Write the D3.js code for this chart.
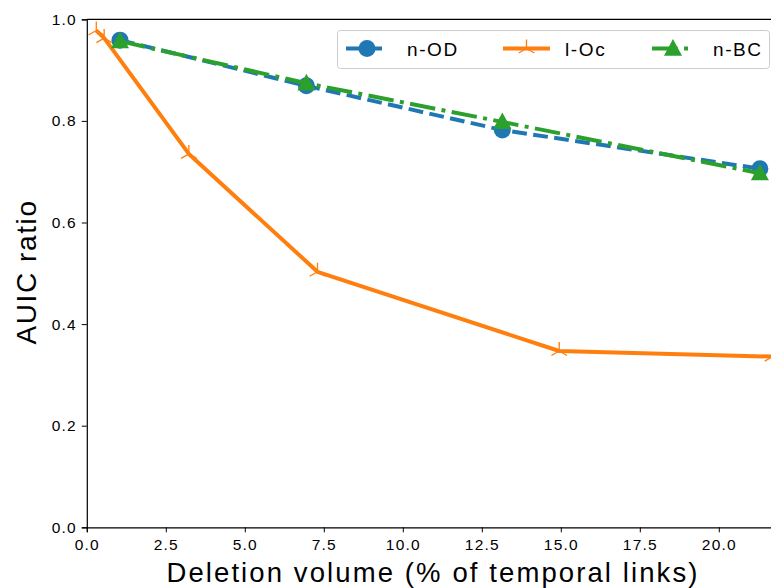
<!DOCTYPE html>
<html><head><meta charset="utf-8">
<script src="https://cdn.jsdelivr.net/npm/d3@7"></script>
<style>body{margin:0;background:#fff;overflow:hidden}svg{display:block}text{font-family:"Liberation Sans",Arial,sans-serif}</style>
</head><body><svg id="c" width="771" height="588"></svg>
<script>
const xTicks = [0, 2.5, 5, 7.5, 10, 12.5, 15, 17.5, 20];
const yTicks = [0, 0.2, 0.4, 0.6, 0.8, 1.0];
const nodX = [1.05, 6.95, 13.15, 21.3];
const nodY = [0.959, 0.869, 0.782, 0.706];
const locX = [0.3, 0.55, 3.23, 7.3, 14.95, 21.7];
const locY = [0.978, 0.963, 0.735, 0.503, 0.347, 0.336];
const nbcX = [1.05, 6.95, 13.15, 21.3];
const nbcY = [0.957, 0.874, 0.798, 0.697];
const seriesNames = ["n-OD", "l-Oc", "n-BC"];
const colors = ["#1f77b4", "#ff7f0e", "#2ca02c"];

const svg = d3.select("#c");
const L = 86.8, T = 19.3, B = 527.3;
const x = d3.scaleLinear().domain([0, 22.5]).range([L, L + 22.5 * 31.6]);
const y = d3.scaleLinear().domain([0, 1]).range([B, T]);

// axes
const xa = svg.append("g").attr("transform", `translate(0,${B})`)
  .call(d3.axisBottom(x).tickValues(xTicks).tickFormat(d3.format(".1f")).tickSizeOuter(0).tickSize(5));
const ya = svg.append("g").attr("transform", `translate(${L},0)`)
  .call(d3.axisLeft(y).tickValues(yTicks).tickFormat(d3.format(".1f")).tickSizeOuter(0).tickSize(5));
[xa, ya].forEach(a => {
  a.select(".domain").attr("stroke", "#000").attr("stroke-width", 1.2);
  a.selectAll(".tick line").attr("stroke", "#000").attr("stroke-width", 1);
  a.selectAll(".tick text").attr("font-size", 15.5).attr("fill", "#000").style("letter-spacing", "1.2px")
    .attr("font-family", "'Liberation Sans', Arial, sans-serif");
});
xa.selectAll(".tick text").attr("dy", "0.95em");
ya.selectAll(".tick text").attr("dx", "-2px");
// top spine
svg.append("line").attr("x1", L).attr("x2", 771).attr("y1", T).attr("y2", T).attr("stroke", "#000").attr("stroke-width", 1.2);

// labels
svg.append("text").attr("x", 433).attr("y", 582).attr("text-anchor", "middle")
  .attr("font-size", 27.5).style("letter-spacing", "2.1px").text("Deletion volume (% of temporal links)");
svg.append("text").attr("transform", "translate(36,272) rotate(-90)").attr("text-anchor", "middle")
  .attr("font-size", 28).style("letter-spacing", "1.6px").text("AUIC ratio");

const g = svg.append("g");
const line = d3.line().x(d => x(d[0])).y(d => y(d[1]));
const nod = nodX.map((v, i) => [v, nodY[i]]);
const loc = locX.map((v, i) => [v, locY[i]]);
const nbc = nbcX.map((v, i) => [v, nbcY[i]]);

function tri(cx, cy, s) { return `M${cx},${cy - s}L${cx + s * 0.95},${cy + s * 0.75}L${cx - s * 0.95},${cy + s * 0.75}Z`; }
function triUp(cx, cy, s) {
  return `M${cx},${cy}L${cx},${cy - s}M${cx},${cy}L${cx - s * 0.866},${cy + s * 0.5}M${cx},${cy}L${cx + s * 0.866},${cy + s * 0.5}`;
}

// n-OD
g.append("path").datum(nod).attr("d", line).attr("fill", "none").attr("stroke", colors[0])
  .attr("stroke-width", 4).attr("stroke-dasharray", "14.8,6.4");
g.selectAll(".nodm").data(nod).join("circle").attr("cx", d => x(d[0])).attr("cy", d => y(d[1])).attr("r", 8.5).attr("fill", colors[0]);
// l-Oc
g.append("path").datum(loc).attr("d", line).attr("fill", "none").attr("stroke", colors[1]).attr("stroke-width", 4).attr("stroke-linejoin", "round");
g.selectAll(".locm").data(loc).join("path").attr("d", d => triUp(x(d[0]), y(d[1]), 9)).attr("stroke", colors[1]).attr("stroke-width", 1.3).attr("fill", "none");
// n-BC
g.append("path").datum(nbc).attr("d", line).attr("fill", "none").attr("stroke", colors[2])
  .attr("stroke-width", 4).attr("stroke-dasharray", "25.6,6.4,4,6.4");
g.selectAll(".nbcm").data(nbc).join("path").attr("d", d => tri(x(d[0]), y(d[1]), 9.5)).attr("fill", colors[2]);

// legend
const lg = svg.append("g");
lg.append("rect").attr("x", 337.5).attr("y", 30.5).attr("width", 432).attr("height", 38).attr("rx", 3)
  .attr("fill", "rgba(255,255,255,0.8)").attr("stroke", "#ccc").attr("stroke-width", 1);
const ly = 48.5;
const items = [
  {x0: 346, x1: 388, tx: 407},
  {x0: 503, x1: 550, tx: 565},
  {x0: 652, x1: 694, tx: 713}
];
items.forEach((it, i) => {
  const ln = lg.append("line").attr("x1", it.x0).attr("x2", it.x1).attr("y1", ly).attr("y2", ly)
    .attr("stroke", colors[i]).attr("stroke-width", 4);
  const cx = (it.x0 + it.x1) / 2;
  if (i === 0) { ln.attr("stroke-dasharray", "14.8,6.4"); lg.append("circle").attr("cx", cx).attr("cy", ly).attr("r", 8.5).attr("fill", colors[0]); }
  if (i === 1) { lg.append("path").attr("d", triUp(cx, ly, 9)).attr("stroke", colors[1]).attr("stroke-width", 1.3).attr("fill", "none"); }
  if (i === 2) { ln.attr("stroke-dasharray", "25.6,6.4,4,6.4"); lg.append("path").attr("d", tri(cx, ly, 9.5)).attr("fill", colors[2]); }
  lg.append("text").attr("x", it.tx).attr("y", ly + 7).attr("font-size", 19).style("letter-spacing", "1.6px").text(seriesNames[i]);
});
</script></body></html>
